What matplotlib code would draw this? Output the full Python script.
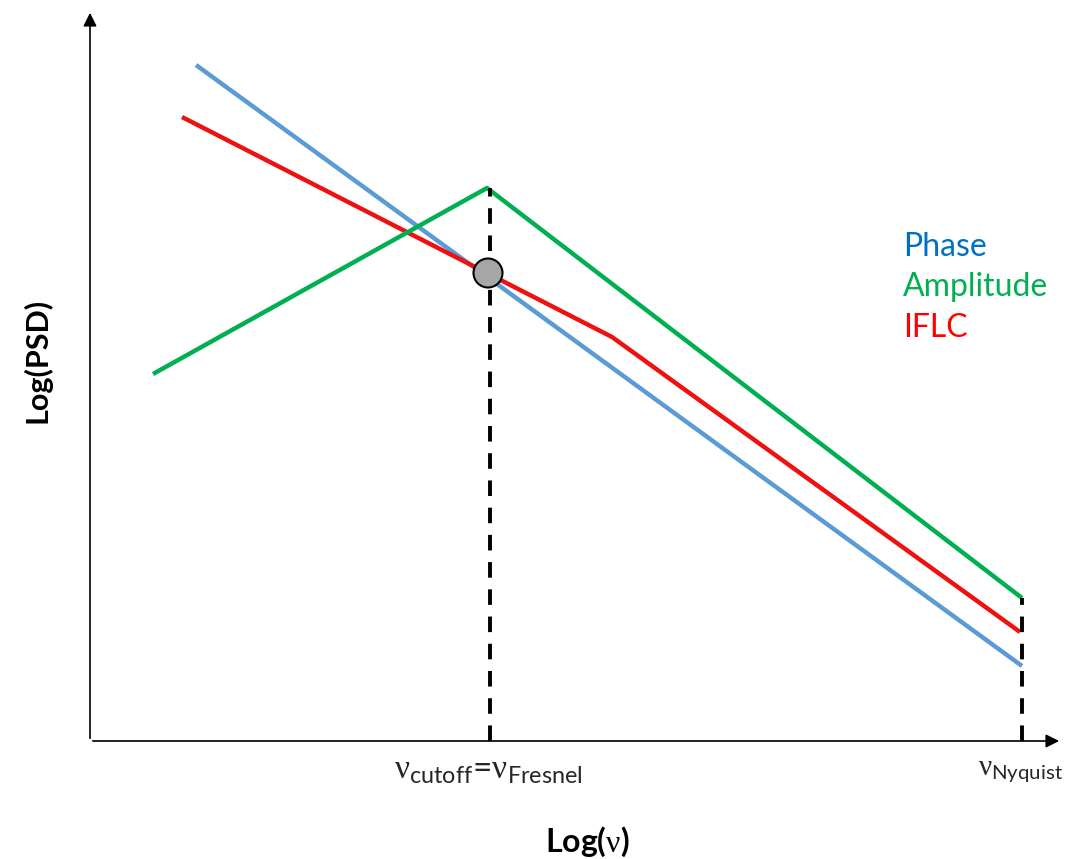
import matplotlib.pyplot as plt
from matplotlib.patches import Circle

plt.rcParams['font.family'] = ['Lato', 'DejaVu Sans']
plt.rcParams['mathtext.fontset'] = 'custom'
plt.rcParams['mathtext.rm'] = 'Lato'
plt.rcParams['mathtext.it'] = 'Lato'
plt.rcParams['mathtext.bf'] = 'Liberation Serif:normal'

# schematic curves, log(nu) vs log(PSD), arbitrary units
phase_x = [106, 932]
phase_y = [676, 75]
iflc_x = [92, 522, 930]
iflc_y = [624, 404, 109]
amp_x = [63, 397, 932]
amp_y = [367, 553, 143]

nu_fresnel = 400
nu_nyquist = 932
cross = (398, 468)

fig = plt.figure(figsize=(10.66, 8.59), dpi=100)
ax = fig.add_axes([0, 0, 1, 1])
ax.set_xlim(-90, 976)
ax.set_ylim(-118, 741)
ax.axis('off')

# axes with arrows
ax.annotate('', xy=(0, 731), xytext=(0, 0),
            arrowprops=dict(arrowstyle='-|>', color='black', lw=1.2, mutation_scale=20))
ax.annotate('', xy=(972, 0), xytext=(0, 0),
            arrowprops=dict(arrowstyle='-|>', color='black', lw=1.2, mutation_scale=20))

ax.plot(phase_x, phase_y, color='#5B9BD5', lw=3.2, solid_capstyle='butt')
ax.plot(iflc_x, iflc_y, color='#EE1111', lw=3.2, solid_capstyle='butt')
ax.plot(amp_x, amp_y, color='#00B050', lw=3.2, solid_capstyle='butt')

ax.plot([nu_fresnel, nu_fresnel], [0, 553], color='black', lw=2.8, ls=(0, (4, 3)))
ax.plot([nu_nyquist, nu_nyquist], [0, 143], color='black', lw=2.8, ls=(0, (4, 3)))

ax.add_patch(Circle(cross, 14.5, facecolor='#A6A6A6', edgecolor='black', lw=1.5, zorder=5))

ax.text(813, 494, 'Phase', color='#0070C0', fontsize=23, va='center')
ax.text(813, 454, 'Amplitude', color='#00B050', fontsize=23, va='center')
ax.text(813, 413, 'IFLC', color='#FF0000', fontsize=23, va='center')

ax.text(398, -30, r'$\mathbf{\nu}_{\mathrm{cutoff}}$=$\mathbf{\nu}_{\mathrm{Fresnel}}$',
        fontsize=24, ha='center', va='center', color='#262626')
ax.text(930, -30, r'$\mathbf{\nu}_{\mathrm{Nyquist}}$', fontsize=21,
        ha='center', va='center', color='#262626')

ax.text(497, -101, r'Log($\mathbf{\nu}$)', fontsize=23, fontweight='bold',
        ha='center', va='center')
ax.text(-53, 381, 'Log(PSD)', fontsize=22, fontweight='bold', ha='center', va='center',
        rotation=90)

fig.savefig('out.png', dpi=100)
